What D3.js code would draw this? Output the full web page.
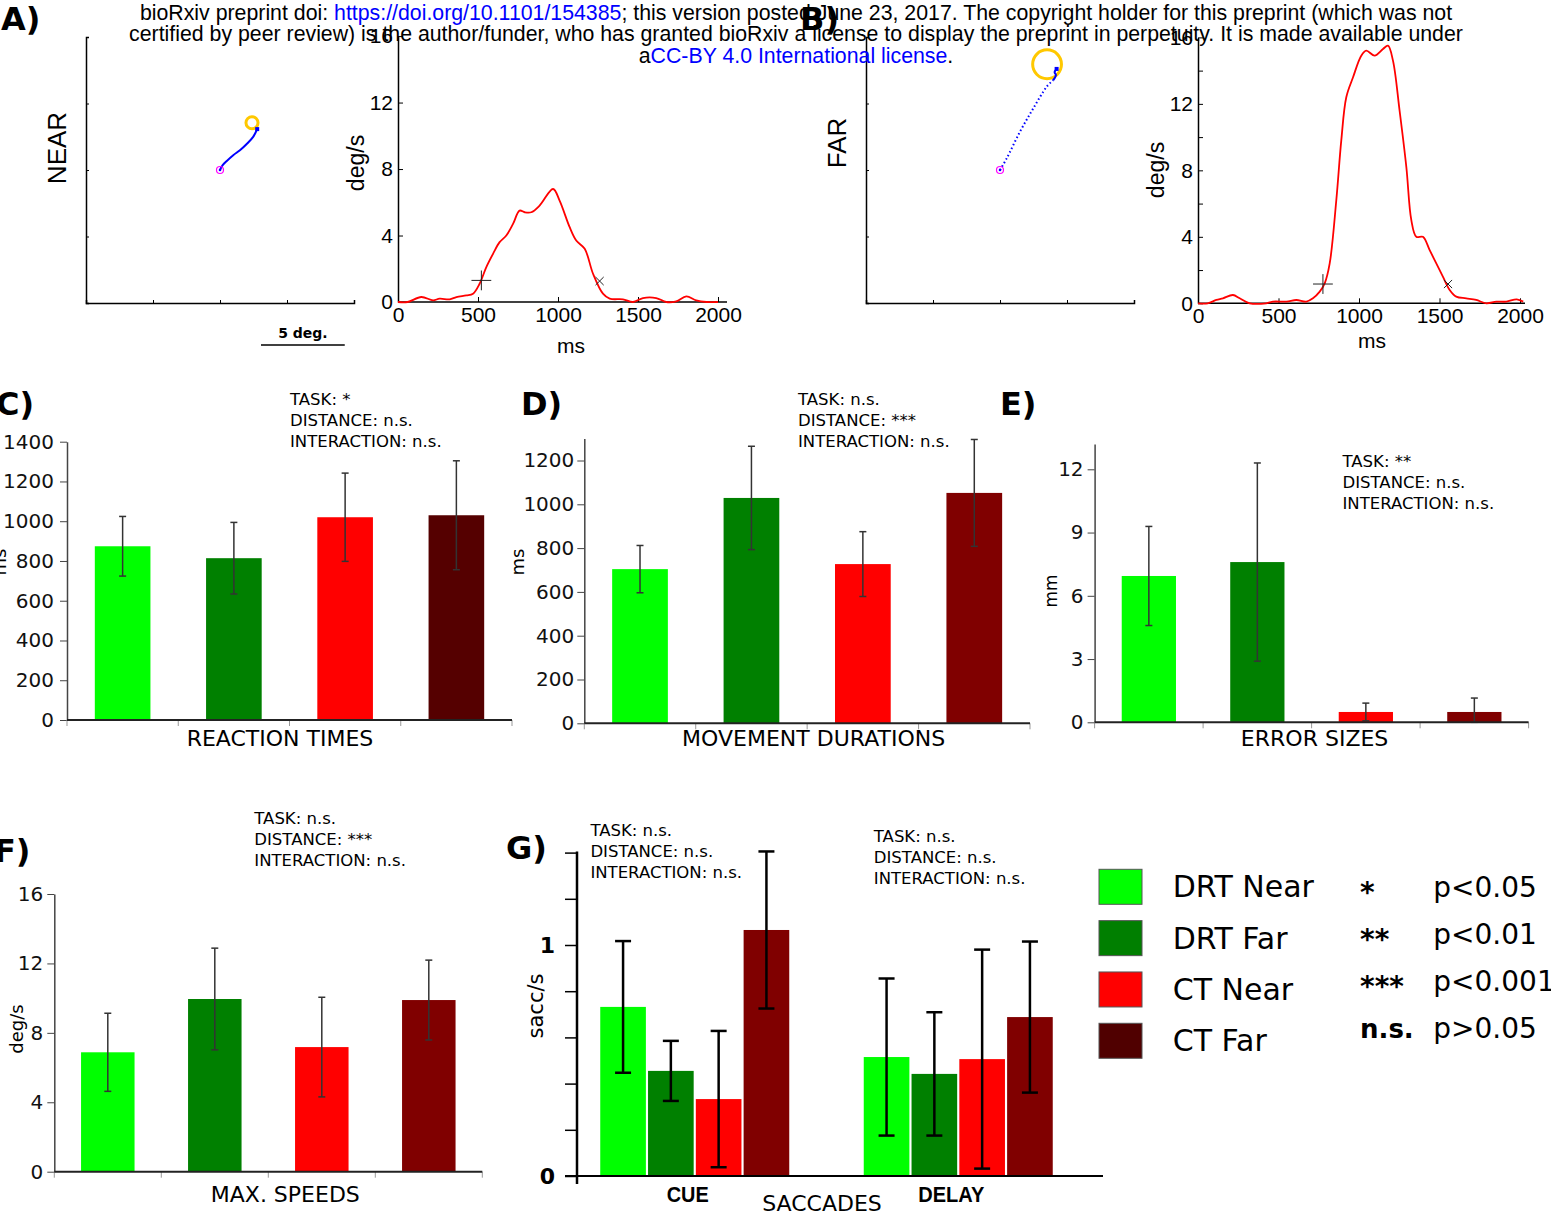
<!DOCTYPE html>
<html>
<head>
<meta charset="utf-8">
<script src="https://cdn.jsdelivr.net/npm/d3@7"></script>
<style>
  body { margin: 0; background: #fff; }
  svg { display: block; }
</style>
</head>
<body>
<div id="fig"></div>
<script>
// ---------- data ----------
const conditions = ["DRT Near", "DRT Far", "CT Near", "CT Far"];
const barColors = ["#00ff00", "#008000", "#ff0000", "#800000"];
const barColorsC = ["#00ff00", "#008000", "#ff0000", "#550000"];
const legendColors = ["#00ff00", "#007f00", "#ff0000", "#500000"];

// C) reaction times (ms)
const rtMeans = [874, 814, 1020, 1030];
const rtSd = [150, 180, 222, 274];
// D) movement durations (ms)
const mdMeans = [704, 1029, 727, 1052];
const mdSd = [108, 236, 148, 244];
// E) error sizes (mm)
const errMeans = [6.94, 7.6, 0.49, 0.49];
const errSd = [2.35, 4.7, 0.42, 0.66];
// F) max speeds (deg/s)
const speedMeans = [6.88, 9.95, 7.18, 9.89];
const speedSd = [2.25, 2.93, 2.87, 2.3];
// G) saccades (sacc/s)
const saccPhases = ["CUE", "DELAY"];
const saccCueMeans = [0.732, 0.455, 0.333, 1.065];
const saccCueSd = [0.285, 0.13, 0.295, 0.34];
const saccDelayMeans = [0.515, 0.442, 0.506, 0.688];
const saccDelaySd = [0.34, 0.267, 0.474, 0.327];

const statsC = ["TASK: *", "DISTANCE: n.s.", "INTERACTION: n.s."];
const statsD = ["TASK: n.s.", "DISTANCE: ***", "INTERACTION: n.s."];
const statsE = ["TASK: **", "DISTANCE: n.s.", "INTERACTION: n.s."];
const statsF = ["TASK: n.s.", "DISTANCE: ***", "INTERACTION: n.s."];
const statsGCue = ["TASK: n.s.", "DISTANCE: n.s.", "INTERACTION: n.s."];
const statsGDelay = ["TASK: n.s.", "DISTANCE: n.s.", "INTERACTION: n.s."];

const sigSymbols = ["*", "**", "***", "n.s."];
const sigLabels = ["p<0.05", "p<0.01", "p<0.001", "p>0.05"];

// A) near trial: hand path (deg), target [x, y, radius]
const nearPathX = [0, 0.16, 0.39, 0.79, 1.19, 1.58, 1.98, 2.22];
const nearPathY = [0, 0.29, 0.53, 0.89, 1.19, 1.55, 1.99, 2.46];
const nearTarget = [1.91, 2.84, 0.36];
// B) far trial
const farPathX = [0, 0.40, 1.19, 1.99, 2.79, 3.18, 3.34, 3.26, 3.38];
const farPathY = [0, 0.70, 2.30, 3.71, 5.01, 5.41, 5.72, 5.88, 6.08];
const farDottedUntil = 5;
const farTarget = [2.81, 6.36, 0.86];

// speed profiles (ms, deg/s)
const nearSpeedMs = [0, 60, 146, 219, 260, 323, 365, 427, 469, 510, 552, 594, 635, 677, 719, 760, 792, 833, 885, 969, 1010, 1073, 1114, 1167, 1219, 1281, 1323, 1406, 1469, 1531, 1614, 1677, 1739, 1802, 1864, 1927, 2000];
const nearSpeedVal = [0, 0, 0.3, 0.1, 0.2, 0.16, 0.3, 0.4, 0.5, 1.1, 2.1, 2.9, 3.6, 4.0, 4.7, 5.5, 5.4, 5.4, 5.8, 6.8, 6.1, 4.5, 3.7, 3.2, 1.7, 0.5, 0.2, 0.16, 0, 0.24, 0.24, 0, 0.04, 0.34, 0.1, 0, 0];
const nearMarks = [[521, 1.3], [1260, 1.26]];

const farSpeedMs = [0, 60, 114, 155, 217, 259, 321, 424, 466, 549, 611, 673, 714, 756, 787, 818, 859, 890, 921, 963, 1014, 1045, 1097, 1149, 1180, 1211, 1252, 1294, 1325, 1356, 1397, 1439, 1480, 1521, 1563, 1604, 1666, 1728, 1791, 1853, 1915, 1980, 2020];
const farSpeedVal = [0, 0, 0.2, 0.3, 0.5, 0.3, 0, 0, 0.1, 0.1, 0.2, 0.1, 0.3, 0.7, 1.2, 2.4, 6.2, 9.8, 12.4, 13.6, 14.9, 15.2, 14.9, 15.3, 15.5, 14.6, 11.6, 8.2, 5.0, 4.0, 4.0, 3.2, 2.4, 1.6, 0.8, 0.4, 0.3, 0.2, 0, 0.1, 0.1, 0.24, 0.1];
const farMarks = [[776, 1.16], [1553, 1.16]];

const headerLines = [
  [["bioRxiv preprint doi: ", "#000"], ["https://doi.org/10.1101/154385", "#0000ff"], ["; this version posted June 23, 2017. The copyright holder for this preprint (which was not", "#000"]],
  [["certified by peer review) is the author/funder, who has granted bioRxiv a license to display the preprint in perpetuity. It is made available under", "#000"]],
  [["a", "#000"], ["CC-BY 4.0 International license", "#0000ff"], [".", "#000"]]
];

// ---------- setup ----------
const W = 1551, H = 1214;
const SANS = "'DejaVu Sans', sans-serif";
const ARIAL = "'Liberation Sans', Arial, sans-serif";
const plain = d3.format("d");

const svg = d3.select("#fig").append("svg")
  .attr("width", W).attr("height", H);

function panelLabel(txt, x, y) {
  svg.append("text").attr("x", x).attr("y", y)
    .style("font-family", SANS).style("font-weight", "bold").style("font-size", "32px")
    .text(txt);
}

function rotLabel(txt, x, y, size, family) {
  svg.append("text")
    .attr("transform", `translate(${x},${y}) rotate(-90)`)
    .attr("text-anchor", "middle")
    .style("font-family", family).style("font-size", size + "px")
    .text(txt);
}

function statsBlock(lines, x, y) {
  const t = svg.append("text").style("font-family", SANS).style("font-size", "16.5px");
  lines.forEach((l, i) => {
    t.append("tspan").attr("x", x).attr("y", y + i * 21).text(l);
  });
}

// ---------- A) / B) hand paths ----------
function trajPanel(p) {
  const g = svg.append("g");
  const x = d3.scaleLinear().domain([-8, 8]).range([p.left, p.left + 268]);
  const y = d3.scaleLinear().domain([-8, 8]).range([303, 37]);

  const ax = g.append("g").attr("transform", "translate(0,303)")
    .call(d3.axisBottom(x).tickValues([-8, -4, 0, 4, 8]).tickSize(-3).tickFormat(""));
  const ay = g.append("g").attr("transform", `translate(${p.left},0)`)
    .call(d3.axisLeft(y).tickValues([-8, -4, 0, 4, 8]).tickSize(-3).tickFormat(""));
  [ax, ay].forEach(a => {
    a.select(".domain").attr("stroke", "#000").attr("stroke-width", 1.5);
    a.selectAll(".tick line").attr("stroke", "#000");
  });

  const pts = p.px.map((v, i) => [v, p.py[i]]);
  const line = d3.line().x(d => x(d[0])).y(d => y(d[1])).curve(d3.curveCatmullRom);

  g.append("circle")
    .attr("cx", x(p.target[0])).attr("cy", y(p.target[1]))
    .attr("r", x(p.target[2]) - x(0))
    .attr("fill", "none").attr("stroke", "#ffc800").attr("stroke-width", 3);

  if (p.dottedUntil) {
    g.append("path").attr("d", line(pts.slice(0, p.dottedUntil + 1)))
      .attr("fill", "none").attr("stroke", "#0000ff").attr("stroke-width", 2)
      .attr("stroke-dasharray", "1.5,2.5");
    g.append("path").attr("d", line(pts.slice(p.dottedUntil)))
      .attr("fill", "none").attr("stroke", "#0000ff").attr("stroke-width", 2);
  } else {
    g.append("path").attr("d", line(pts))
      .attr("fill", "none").attr("stroke", "#0000ff").attr("stroke-width", 2);
  }
  const last = pts[pts.length - 1];
  g.append("rect").attr("x", x(last[0]) - 2).attr("y", y(last[1]) - 2)
    .attr("width", 4).attr("height", 4).attr("fill", "#0000ff");

  g.append("circle").attr("cx", x(0)).attr("cy", y(0)).attr("r", 3.5)
    .attr("fill", "none").attr("stroke", "#ff00ff").attr("stroke-width", 1.2);
  g.append("circle").attr("cx", x(0)).attr("cy", y(0)).attr("r", 1.3).attr("fill", "#0000ff");

  rotLabel(p.name, p.nameX, p.nameY, 26, ARIAL);
  return x;
}

// ---------- speed profiles ----------
function speedPanel(p) {
  const g = svg.append("g");
  const x = d3.scaleLinear().domain([0, 2000]).range([p.left, p.x2000]);
  const y = d3.scaleLinear().domain([0, 16]).range([p.bottom, p.bottom - 16 * 16.62]);

  const ax = g.append("g").attr("transform", `translate(0,${p.bottom})`)
    .call(d3.axisBottom(x).tickValues([0, 500, 1000, 1500, 2000]).tickSize(-5).tickPadding(5)
      .tickSizeOuter(0).tickFormat(plain));
  ax.select(".domain").attr("d", `M${p.left},0H${p.axisEnd}`);
  const ay = g.append("g").attr("transform", `translate(${p.left},0)`)
    .call(d3.axisLeft(y).tickValues(p.yTicks).tickSize(-5).tickPadding(5).tickSizeOuter(0)
      .tickFormat(d => d % 4 === 0 ? d : ""));
  [ax, ay].forEach(a => {
    a.attr("font-family", ARIAL).attr("font-size", 21);
    a.select(".domain").attr("stroke", "#000").attr("stroke-width", 1.5);
    a.selectAll(".tick line").attr("stroke", "#000");
    a.selectAll(".tick text").attr("fill", "#000");
  });

  const pts = p.ms.map((v, i) => [v, p.val[i]]);
  g.append("path")
    .attr("d", d3.line().x(d => x(d[0])).y(d => y(d[1])).curve(d3.curveCatmullRom)(pts))
    .attr("fill", "none").attr("stroke", "#ff0000").attr("stroke-width", 1.8);

  g.append("path").attr("transform", `translate(${x(p.marks[0][0])},${y(p.marks[0][1])})`)
    .attr("d", d3.symbol(d3.symbolPlus, 130)()).attr("stroke", "#222").attr("stroke-width", 1).attr("fill", "none");
  g.append("path").attr("transform", `translate(${x(p.marks[1][0])},${y(p.marks[1][1])})`)
    .attr("d", d3.symbol(d3.symbolTimes, 45)()).attr("stroke", "#222").attr("stroke-width", 1).attr("fill", "none");

  rotLabel("deg/s", p.ylabX, p.ylabY, 23, ARIAL);
  svg.append("text").attr("x", p.xlabX).attr("y", p.xlabY).attr("text-anchor", "middle")
    .style("font-family", ARIAL).style("font-size", "21px").text("ms");
}

trajPanel({ left: 86, px: nearPathX, py: nearPathY, target: nearTarget, name: "NEAR", nameX: 66, nameY: 148 });
trajPanel({ left: 866, px: farPathX, py: farPathY, target: farTarget, dottedUntil: farDottedUntil, name: "FAR", nameX: 846, nameY: 143 });

// scale bar under A
{
  const xs = d3.scaleLinear().domain([-8, 8]).range([86, 354]);
  const x0 = 261;
  svg.append("line").attr("x1", x0).attr("x2", x0 + xs(5) - xs(0)).attr("y1", 345).attr("y2", 345)
    .attr("stroke", "#000").attr("stroke-width", 1.5);
  svg.append("text").attr("x", x0 + (xs(5) - xs(0)) / 2).attr("y", 338).attr("text-anchor", "middle")
    .style("font-family", SANS).style("font-weight", "bold").style("font-size", "14px").text("5 deg.");
}

speedPanel({ left: 398, x2000: 718, axisEnd: 727, bottom: 302, ms: nearSpeedMs, val: nearSpeedVal, marks: nearMarks,
  yTicks: [0, 4, 8, 12, 16], ylabX: 364, ylabY: 163, xlabX: 571, xlabY: 353 });
speedPanel({ left: 1198, x2000: 1520, axisEnd: 1525, bottom: 303.3, ms: farSpeedMs, val: farSpeedVal, marks: farMarks,
  yTicks: d3.range(0, 17, 2), ylabX: 1164, ylabY: 170, xlabX: 1372, xlabY: 348 });

panelLabel("A)", 1, 30);
panelLabel("B)", 800, 30);

// ---------- bar panels C–F ----------
function errorBars(g, xc, y, means, sds, cap, color, width) {
  means.forEach((m, i) => {
    const cx = xc(i);
    const lo = y(Math.max(0, m - sds[i])), hi = y(m + sds[i]);
    g.append("line").attr("x1", cx).attr("x2", cx).attr("y1", lo).attr("y2", hi)
      .attr("stroke", color).attr("stroke-width", width);
    [lo, hi].forEach(yy => g.append("line")
      .attr("x1", cx - cap / 2).attr("x2", cx + cap / 2).attr("y1", yy).attr("y2", yy)
      .attr("stroke", color).attr("stroke-width", width));
  });
}

function barPanel(p) {
  const g = svg.append("g");
  const x = d3.scaleBand().domain(conditions).range([p.left, p.right]).paddingInner(0.5).paddingOuter(0.25);
  const y = d3.scaleLinear().domain([0, p.ymax]).range([p.bottom, p.top]);

  g.selectAll("rect").data(p.means).join("rect")
    .attr("x", (d, i) => x(conditions[i])).attr("width", x.bandwidth())
    .attr("y", d => y(d)).attr("height", d => y(0) - y(d))
    .attr("fill", (d, i) => p.colors[i]);

  errorBars(g, i => x(conditions[i]) + x.bandwidth() / 2, y, p.means, p.sd, 7, "#333", 1.5);

  const ay = g.append("g").attr("transform", `translate(${p.left},0)`)
    .call(d3.axisLeft(y).tickValues(p.ticks).tickSize(7).tickPadding(p.pad).tickSizeOuter(0).tickFormat(plain));
  ay.attr("font-family", SANS).attr("font-size", 20);
  ay.select(".domain").attr("stroke", "#444").attr("stroke-width", 1.5);
  ay.selectAll(".tick line").attr("stroke", "#444");
  ay.selectAll(".tick text").attr("fill", "#111");

  // category boundary ticks and baseline
  const bounds = d3.range(conditions.length + 1).map(i => p.left + i * x.step());
  g.selectAll("line.bt").data(bounds).join("line")
    .attr("x1", d => d).attr("x2", d => d).attr("y1", p.bottom).attr("y2", p.bottom + 6)
    .attr("stroke", "#999").attr("stroke-width", 1);
  g.append("line").attr("x1", p.left).attr("x2", p.right).attr("y1", p.bottom).attr("y2", p.bottom)
    .attr("stroke", "#222").attr("stroke-width", 2);

  svg.append("text").attr("x", (p.left + p.right) / 2 + p.xlabShift).attr("y", p.xlabY).attr("text-anchor", "middle")
    .style("font-family", SANS).style("font-size", "22px").text(p.xlabel);
  rotLabel(p.ylabel, p.ylabX, p.ylabY, p.ylabSize, SANS);
  statsBlock(p.stats, p.statX, p.statY);
}

barPanel({ left: 67, right: 512, bottom: 720, top: 441.7, ymax: 1400, ticks: d3.range(0, 1401, 200), pad: 6,
  means: rtMeans, sd: rtSd, colors: barColorsC, xlabel: "REACTION TIMES", xlabY: 746, xlabShift: -9.5,
  ylabel: "ms", ylabX: 6, ylabY: 562, ylabSize: 18, stats: statsC, statX: 290, statY: 405 });
barPanel({ left: 584.3, right: 1030, bottom: 723.3, top: 438.6, ymax: 1300, ticks: d3.range(0, 1201, 200), pad: 3,
  means: mdMeans, sd: mdSd, colors: barColors, xlabel: "MOVEMENT DURATIONS", xlabY: 746, xlabShift: 6.5,
  ylabel: "ms", ylabX: 524, ylabY: 562, ylabSize: 18, stats: statsD, statX: 798, statY: 405 });
barPanel({ left: 1094.6, right: 1528.6, bottom: 722.3, top: 444, ymax: 13.2, ticks: [0, 3, 6, 9, 12], pad: 4,
  means: errMeans, sd: errSd, colors: barColors, xlabel: "ERROR SIZES", xlabY: 746, xlabShift: 3,
  ylabel: "mm", ylabX: 1057, ylabY: 591, ylabSize: 17, stats: statsE, statX: 1342.5, statY: 467.3 });
barPanel({ left: 54.3, right: 482.3, bottom: 1171.7, top: 894, ymax: 16, ticks: [0, 4, 8, 12, 16], pad: 4,
  means: speedMeans, sd: speedSd, colors: barColors, xlabel: "MAX. SPEEDS", xlabY: 1202, xlabShift: 17,
  ylabel: "deg/s", ylabX: 23, ylabY: 1029, ylabSize: 18, stats: statsF, statX: 254.3, statY: 824 });

panelLabel("C)", -4, 415);
panelLabel("D)", 521, 415);
panelLabel("E)", 1000, 415);
panelLabel("F)", -6, 862);

// ---------- G) saccades ----------
{
  const g = svg.append("g");
  const x = d3.scaleBand().domain(saccPhases).range([563, 1090]);
  const xi = d3.scaleBand().domain(conditions).range([-94.5, 94.5]).paddingInner(0.045);
  const y = d3.scaleLinear().domain([0, 1.4]).range([1176, 852.6]);
  const groups = [
    { phase: "CUE", means: saccCueMeans, sd: saccCueSd },
    { phase: "DELAY", means: saccDelayMeans, sd: saccDelaySd }
  ];

  groups.forEach(gr => {
    const c = x(gr.phase) + x.bandwidth() / 2;
    g.selectAll(null).data(gr.means).join("rect")
      .attr("x", (d, i) => c + xi(conditions[i])).attr("width", xi.bandwidth())
      .attr("y", d => y(d)).attr("height", d => y(0) - y(d))
      .attr("fill", (d, i) => barColors[i]);
  });
  groups.forEach(gr => {
    const c = x(gr.phase) + x.bandwidth() / 2;
    errorBars(g, i => c + xi(conditions[i]) + xi.bandwidth() / 2, y, gr.means, gr.sd, 16, "#000", 2.5);
  });

  const ay = g.append("g").attr("transform", "translate(577,0)")
    .call(d3.axisLeft(y).tickValues(d3.range(0, 1.41, 0.2)).tickSize(12).tickPadding(10).tickSizeOuter(0)
      .tickFormat(d => Math.abs(d) < 1e-6 ? "0" : Math.abs(d - 1) < 1e-6 ? "1" : ""));
  ay.attr("font-family", SANS).attr("font-size", 22).attr("font-weight", "bold");
  ay.select(".domain").remove();
  ay.selectAll(".tick line").attr("stroke", "#000").attr("stroke-width", 1.5);
  ay.selectAll(".tick text").attr("fill", "#000");
  g.append("line").attr("x1", 577).attr("x2", 577).attr("y1", 851.5).attr("y2", 1184)
    .attr("stroke", "#000").attr("stroke-width", 2.5);
  g.append("line").attr("x1", 565).attr("x2", 1103).attr("y1", 1176).attr("y2", 1176)
    .attr("stroke", "#000").attr("stroke-width", 2);

  saccPhases.forEach((ph, i) => {
    svg.append("text").attr("x", x(ph) + x.bandwidth() / 2 - 7).attr("y", 1201.5).attr("text-anchor", "middle")
      .attr("textLength", i === 0 ? 42 : 66).attr("lengthAdjust", "spacingAndGlyphs")
      .style("font-family", ARIAL).style("font-weight", "bold").style("font-size", "22px").text(ph);
  });
  svg.append("text").attr("x", 822).attr("y", 1210.5).attr("text-anchor", "middle")
    .style("font-family", SANS).style("font-size", "22px").text("SACCADES");
  rotLabel("sacc/s", 543, 1006, 21, SANS);
  statsBlock(statsGCue, 590.4, 836);
  statsBlock(statsGDelay, 873.8, 841.7);
  panelLabel("G)", 506, 859);
}

// ---------- legend ----------
{
  const rowY = d3.scaleLinear().domain([0, 3]).range([869.3, 1023.3]);
  const sigY = d3.scaleLinear().domain([0, 3]).range([897.3, 1038.3]);
  const lg = svg.append("g");
  conditions.forEach((c, i) => {
    lg.append("rect").attr("x", 1099).attr("y", rowY(i)).attr("width", 43).attr("height", 35)
      .attr("fill", legendColors[i]).attr("stroke", "#555").attr("stroke-width", 1);
    lg.append("text").attr("x", 1172.7).attr("y", rowY(i) + 28)
      .style("font-family", SANS).style("font-size", "30px").text(c);
  });
  sigSymbols.forEach((s, i) => {
    lg.append("text").attr("x", 1360).attr("y", sigY(i)).attr("dy", s === "n.s." ? 0 : "0.18em")
      .style("font-family", SANS).style("font-weight", "bold")
      .style("font-size", s === "n.s." ? "26px" : "28px").text(s);
    lg.append("text").attr("x", 1433.3).attr("y", sigY(i))
      .style("font-family", SANS).style("font-size", "28px").text(sigLabels[i]);
  });
}

// ---------- bioRxiv header ----------
headerLines.forEach((parts, i) => {
  const t = svg.append("text").attr("x", 796).attr("y", 19.5 + i * 21.5).attr("text-anchor", "middle")
    .style("font-family", ARIAL).style("font-size", "21.3px");
  parts.forEach(p => t.append("tspan").attr("fill", p[1]).text(p[0]));
});
</script>
</body>
</html>
